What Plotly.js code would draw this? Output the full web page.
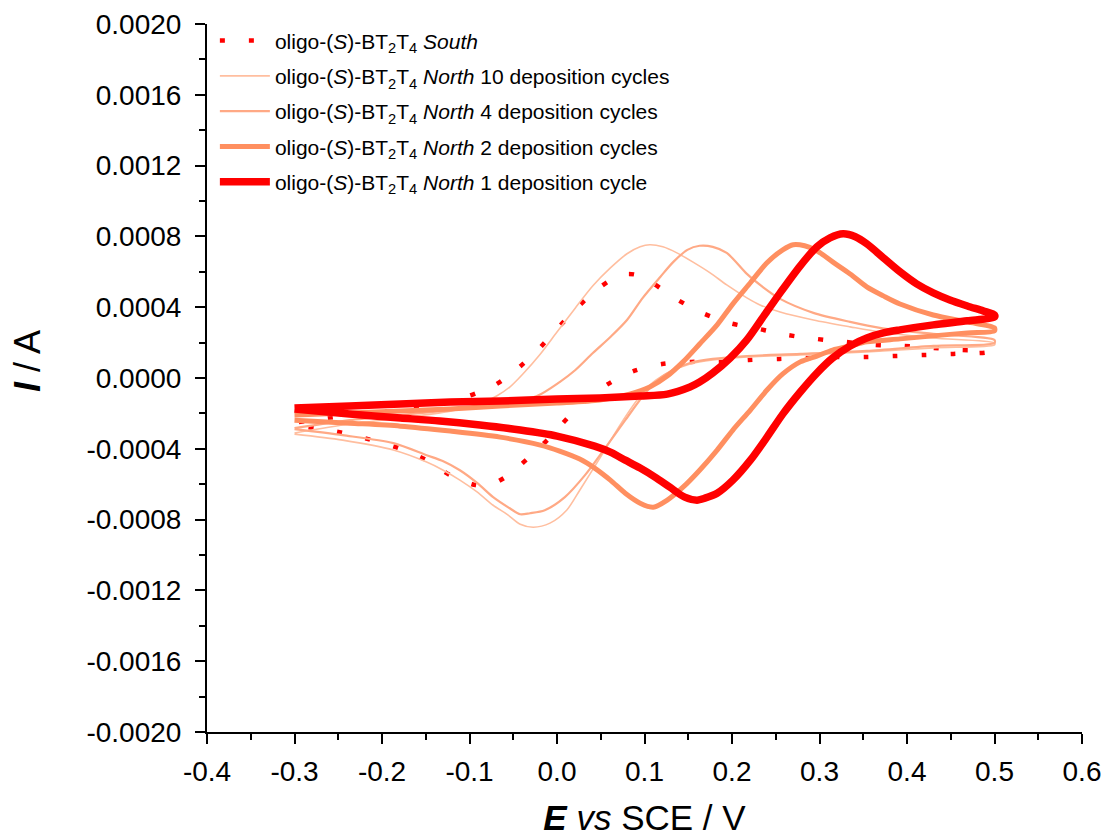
<!DOCTYPE html>
<html>
<head>
<meta charset="utf-8">
<script src="https://cdn.plot.ly/plotly-3.0.1.min.js"></script>
<style>
  html, body { margin: 0; padding: 0; background: #fff; }
  #chart { width: 1108px; height: 839px; }
</style>
</head>
<body>
<div id="chart"></div>
<script>
// ---- Data (E vs SCE / V, I / A) ----
const seriesNames = [
  "oligo-(<i>S</i>)-BT<sub>2</sub>T<sub>4</sub> <i>South</i>",
  "oligo-(<i>S</i>)-BT<sub>2</sub>T<sub>4</sub> <i>North</i> 10 deposition cycles",
  "oligo-(<i>S</i>)-BT<sub>2</sub>T<sub>4</sub> <i>North</i> 4 deposition cycles",
  "oligo-(<i>S</i>)-BT<sub>2</sub>T<sub>4</sub> <i>North</i> 2 deposition cycles",
  "oligo-(<i>S</i>)-BT<sub>2</sub>T<sub>4</sub> <i>North</i> 1 deposition cycle"
];

const southE = [-0.295,-0.237,-0.179,-0.134,-0.101,-0.071,-0.047,-0.023,0.000,0.024,0.048,0.066,0.081,0.095,0.109,0.136,0.166,0.197,0.231,0.263,0.296,0.329,0.362,0.395,0.430,0.461,0.492,
                0.492,0.453,0.419,0.386,0.353,0.320,0.287,0.254,0.219,0.186,0.153,0.120,0.088,0.062,0.038,0.013,-0.010,-0.033,-0.059,-0.077,-0.093,-0.122,-0.149,-0.181,-0.229,-0.262,-0.295];
const southI = [-0.000249,-0.000209,-0.000181,-0.000147,-0.000102,-0.000040,0.000045,0.000153,0.000277,0.000402,0.000509,0.000566,0.000588,0.000577,0.000538,0.000447,0.000368,0.000311,0.000277,0.000243,0.000221,0.000204,0.000187,0.000181,0.000170,0.000158,0.000153,
                0.000147,0.000136,0.000130,0.000124,0.000119,0.000119,0.000113,0.000108,0.000102,0.000091,0.000091,0.000079,0.000040,-0.000023,-0.000102,-0.000221,-0.000345,-0.000453,-0.000560,-0.000605,-0.000605,-0.000549,-0.000464,-0.000396,-0.000328,-0.000294,-0.000272];

const n10E = [-0.300,-0.237,-0.179,-0.122,-0.088,-0.069,-0.054,-0.039,-0.019,0.000,0.021,0.041,0.061,0.080,0.095,0.106,0.121,0.137,0.155,0.175,0.194,0.217,0.232,0.255,0.293,0.335,0.369,0.430,0.500,
              0.500,0.430,0.354,0.278,0.217,0.178,0.152,0.129,0.110,0.095,0.072,0.049,0.026,0.011,-0.008,-0.027,-0.042,-0.057,-0.073,-0.091,-0.111,-0.130,-0.149,-0.187,-0.245,-0.300];
const n10I = [-0.000311,-0.000260,-0.000226,-0.000187,-0.000147,-0.000102,-0.000051,0.000023,0.000136,0.000260,0.000396,0.000521,0.000622,0.000702,0.000741,0.000753,0.000741,0.000707,0.000656,0.000594,0.000526,0.000453,0.000413,0.000373,0.000328,0.000289,0.000260,0.000226,0.000198,
              0.000187,0.000170,0.000147,0.000130,0.000119,0.000102,0.000079,0.000034,-0.000023,-0.000102,-0.000266,-0.000453,-0.000634,-0.000747,-0.000820,-0.000843,-0.000826,-0.000770,-0.000719,-0.000645,-0.000577,-0.000521,-0.000475,-0.000407,-0.000351,-0.000317];

const n4E = [-0.300,-0.237,-0.179,-0.122,-0.065,-0.023,0.003,0.021,0.041,0.061,0.080,0.098,0.118,0.133,0.149,0.163,0.178,0.194,0.217,0.235,0.255,0.293,0.335,0.369,0.430,0.500,
             0.500,0.430,0.354,0.278,0.217,0.178,0.152,0.135,0.118,0.101,0.078,0.055,0.032,0.009,-0.014,-0.031,-0.042,-0.054,-0.073,-0.091,-0.111,-0.130,-0.149,-0.187,-0.245,-0.300];
const n4I = [-0.000283,-0.000238,-0.000209,-0.000181,-0.000147,-0.000102,-0.000023,0.000045,0.000141,0.000232,0.000328,0.000453,0.000571,0.000656,0.000724,0.000747,0.000741,0.000707,0.000588,0.000515,0.000447,0.000368,0.000317,0.000283,0.000249,0.000215,
             0.000198,0.000181,0.000153,0.000136,0.000124,0.000108,0.000085,0.000051,0.000000,-0.000085,-0.000238,-0.000396,-0.000549,-0.000673,-0.000747,-0.000764,-0.000770,-0.000736,-0.000673,-0.000594,-0.000521,-0.000470,-0.000436,-0.000368,-0.000323,-0.000289];

const n2E = [-0.300,-0.237,-0.179,-0.122,-0.065,0.000,0.049,0.083,0.106,0.126,0.144,0.163,0.183,0.201,0.221,0.240,0.258,0.270,0.283,0.297,0.315,0.335,0.354,0.373,0.392,0.430,0.469,0.500,
             0.500,0.469,0.430,0.392,0.354,0.335,0.315,0.297,0.278,0.258,0.240,0.221,0.201,0.183,0.163,0.144,0.126,0.110,0.095,0.078,0.061,0.043,0.026,0.003,-0.019,-0.065,-0.122,-0.179,-0.237,-0.300];
const n2I = [-0.000209,-0.000198,-0.000187,-0.000175,-0.000158,-0.000141,-0.000124,-0.000091,-0.000051,0.000011,0.000091,0.000192,0.000300,0.000419,0.000538,0.000651,0.000724,0.000753,0.000747,0.000719,0.000656,0.000588,0.000515,0.000464,0.000418,0.000356,0.000317,0.000283,
             0.000266,0.000255,0.000238,0.000221,0.000204,0.000181,0.000158,0.000124,0.000091,0.000023,-0.000068,-0.000181,-0.000294,-0.000407,-0.000521,-0.000617,-0.000690,-0.000730,-0.000707,-0.000651,-0.000577,-0.000509,-0.000458,-0.000413,-0.000379,-0.000334,-0.000300,-0.000272,-0.000255,-0.000238];

const n1E = [-0.300,-0.237,-0.179,-0.122,-0.065,0.000,0.049,0.095,0.126,0.152,0.163,0.178,0.198,0.217,0.238,0.255,0.278,0.297,0.312,0.327,0.341,0.354,0.373,0.392,0.411,0.430,0.449,0.469,0.487,0.500,
             0.500,0.469,0.430,0.392,0.373,0.354,0.335,0.315,0.297,0.278,0.258,0.240,0.221,0.201,0.183,0.169,0.160,0.146,0.129,0.112,0.095,0.078,0.061,0.043,0.000,-0.042,-0.088,-0.134,-0.179,-0.237,-0.300];
const n1I = [-0.000170,-0.000158,-0.000147,-0.000136,-0.000130,-0.000119,-0.000113,-0.000102,-0.000091,-0.000051,-0.000023,0.000028,0.000113,0.000215,0.000362,0.000481,0.000634,0.000741,0.000792,0.000815,0.000798,0.000758,0.000679,0.000600,0.000532,0.000481,0.000441,0.000407,0.000379,0.000356,
             0.000345,0.000323,0.000300,0.000272,0.000255,0.000226,0.000181,0.000113,0.000028,-0.000079,-0.000204,-0.000334,-0.000464,-0.000577,-0.000651,-0.000679,-0.000690,-0.000673,-0.000617,-0.000560,-0.000509,-0.000464,-0.000419,-0.000385,-0.000328,-0.000294,-0.000266,-0.000243,-0.000226,-0.000204,-0.000175];

// tick labels
const xTickVals = [-0.4,-0.3,-0.2,-0.1,0.0,0.1,0.2,0.3,0.4,0.5,0.6];
const xTickText = ["-0.4","-0.3","-0.2","-0.1","0.0","0.1","0.2","0.3","0.4","0.5","0.6"];
const yTickVals = [-0.0020,-0.0016,-0.0012,-0.0008,-0.0004,0.0000,0.0004,0.0008,0.0012,0.0016,0.0020];
const yTickText = ["-0.0020","-0.0016","-0.0012","-0.0008","-0.0004","0.0000","0.0004","0.0008","0.0012","0.0016","0.0020"];

// ---- Traces ----
const styles = [
  {color: "#FF0000", width: 4.5, dash: "5px,24px"},
  {color: "#FFBE9F", width: 1.6, dash: "solid"},
  {color: "#FFA985", width: 2.2, dash: "solid"},
  {color: "#FF8F60", width: 5, dash: "solid"},
  {color: "#FF0000", width: 7.5, dash: "solid"}
];
const xs = [southE, n10E, n4E, n2E, n1E];
const ys = [southI, n10I, n4I, n2I, n1I];

const traces = xs.map((x, k) => ({
  type: "scatter",
  mode: "lines",
  x: x,
  y: ys[k],
  name: seriesNames[k],
  legendgroup: "g" + k,
  line: {color: styles[k].color, width: styles[k].width, dash: styles[k].dash, shape: "spline", smoothing: 0.8}
}));

const FONT = "Liberation Sans, Arial, sans-serif";

const layout = {
  width: 1108,
  height: 839,
  paper_bgcolor: "#ffffff",
  plot_bgcolor: "#ffffff",
  margin: {l: 207, r: 26, t: 24, b: 107},
  showlegend: true,
  legend: {
    x: 0.009, xanchor: "left",
    y: 1.005, yanchor: "top",
    bgcolor: "rgba(0,0,0,0)",
    font: {family: FONT, size: 21, color: "#000"},
    itemwidth: 50,
    tracegroupgap: 5
  },
  xaxis: {
    range: [-0.4, 0.6],
    tickmode: "array",
    tickvals: xTickVals,
    ticktext: xTickText,
    ticks: "outside",
    ticklen: 10,
    tickwidth: 2,
    tickcolor: "#000",
    ticklabelstandoff: 3,
    showline: true,
    linecolor: "#000",
    linewidth: 2,
    showgrid: false,
    zeroline: false,
    tickfont: {family: FONT, size: 28, color: "#000"},
    minor: {tickmode: "linear", tick0: -0.35, dtick: 0.1, ticks: "outside", ticklen: 6, tickwidth: 2, tickcolor: "#000", showgrid: false},
    title: {text: "<b><i>E</i></b> <i>vs</i> SCE / V", font: {family: FONT, size: 35, color: "#000"}, standoff: 20}
  },
  yaxis: {
    range: [-0.0020, 0.0020],
    tickmode: "array",
    tickvals: yTickVals,
    ticktext: yTickText,
    ticks: "outside",
    ticklen: 10,
    tickwidth: 2,
    tickcolor: "#000",
    ticklabelstandoff: 8,
    showline: true,
    linecolor: "#000",
    linewidth: 2,
    showgrid: false,
    zeroline: false,
    tickfont: {family: FONT, size: 28, color: "#000"},
    minor: {tickmode: "linear", tick0: -0.0018, dtick: 0.0004, ticks: "outside", ticklen: 6, tickwidth: 2, tickcolor: "#000", showgrid: false}
  },
  annotations: [{
    text: "<b><i>I</i></b> / A",
    xref: "paper", yref: "paper",
    x: -0.2057, y: 0.524,
    xanchor: "center", yanchor: "middle",
    textangle: -90,
    showarrow: false,
    font: {family: FONT, size: 36, color: "#000"}
  }]
};

Plotly.newPlot("chart", traces, layout, {staticPlot: true, displayModeBar: false});
</script>
</body>
</html>
